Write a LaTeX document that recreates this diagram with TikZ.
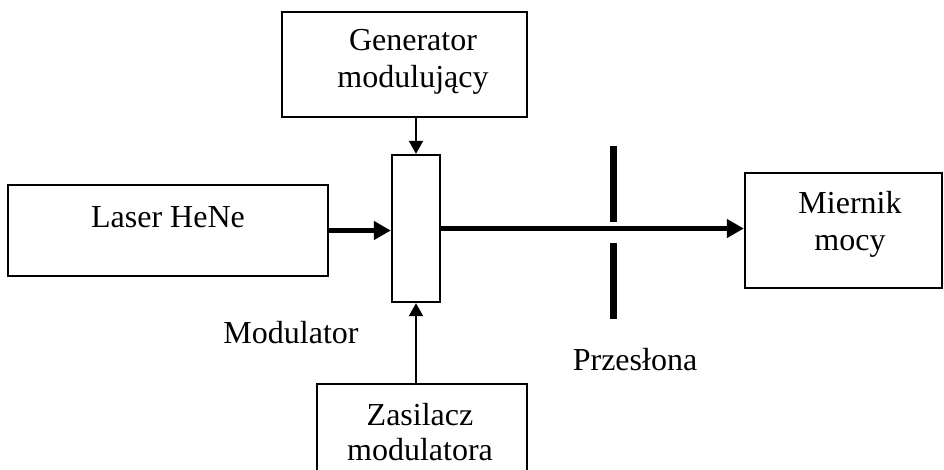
\documentclass[tikz,border=0pt]{standalone}
\usepackage{fontspec}
\setmainfont{Liberation Serif}
\usetikzlibrary{arrows.meta}
\begin{document}
\begin{tikzpicture}[x=1pt,y=-1pt,
  blk/.style={draw,line width=2.3pt,inner sep=0pt},
  lbl/.style={anchor=base,inner sep=0pt,font=\fontsize{32}{37}\selectfont},
  thin/.style={line width=2pt,-{Triangle[length=13pt,width=14pt]}},
  beam/.style={line width=5pt,-{Triangle[length=17pt,width=18pt]}},
  bar/.style={line width=7pt}]
\useasboundingbox (0,0) rectangle (944,469);
\node[blk,minimum width=245pt,minimum height=105pt] (gen) at (404.5,64.5) {};
\node[blk,minimum width=320pt,minimum height=91pt] (las) at (168,230.5) {};
\node[blk,minimum width=48pt,minimum height=147pt] (mod) at (416,228.5) {};
\node[blk,minimum width=197pt,minimum height=115pt] (mie) at (843.5,230.5) {};
\node[blk,minimum width=210pt,minimum height=96pt] (zas) at (422,432) {};
\node[lbl] (t1) at (413,50) {Generator};
\node[lbl] (t2) at (413,87) {modulujący};
\node[lbl] (t3) at (168,227) {Laser HeNe};
\node[lbl] (t4) at (850,213) {Miernik};
\node[lbl] (t5) at (850,250) {mocy};
\node[lbl] (t6) at (291,343) {Modulator};
\node[lbl] (t7) at (635,370) {Przesłona};
\node[lbl] (t8) at (420,425) {Zasilacz};
\node[lbl] (t9) at (420,460) {modulatora};
\draw[thin] (mod.north |- gen.south) -- (mod.north);
\draw[thin] (mod.south |- zas.north) -- (mod.south);
\draw[beam] (las.east) -- (las.east -| mod.west);
\draw[beam] (mod.east) -- (mod.east -| mie.west);
\coordinate (b1) at (613,146);
\coordinate (b2) at (613,222);
\coordinate (b3) at (613,243);
\coordinate (b4) at (613,319);
\draw[bar] (b1) -- (b2);
\draw[bar] (b3) -- (b4);
\end{tikzpicture}
\end{document}
